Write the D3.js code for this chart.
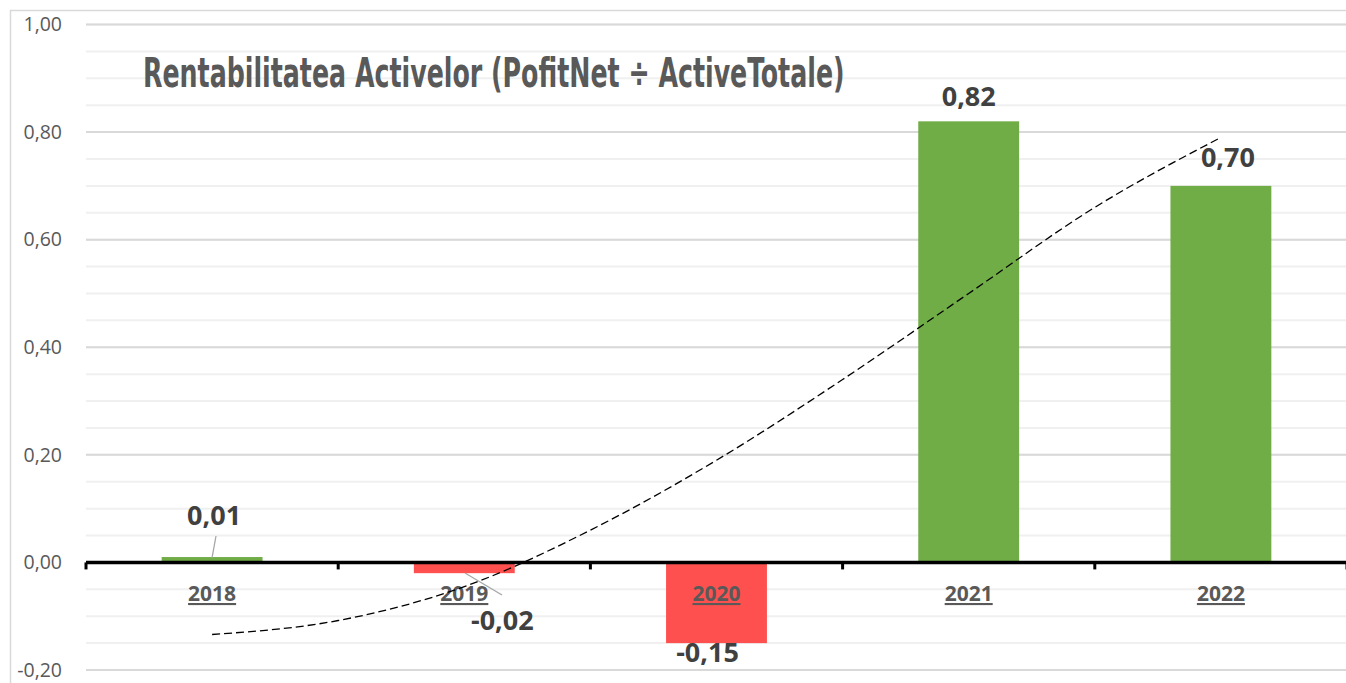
<!doctype html>
<html>
<head>
<meta charset="utf-8"/>
<script src="https://cdnjs.cloudflare.com/ajax/libs/d3/7.8.5/d3.min.js"></script>
<style>
  body { margin: 0; background: #fff; }
  svg { display: block; }
  .tick-label { font-family: "Open Sans", sans-serif; font-size: 19.5px; fill: #595959; }
  .cat-label { font-family: "Open Sans", sans-serif; font-size: 21px; font-weight: bold; fill: #595959; text-decoration: underline; }
  .val-label { font-family: "Open Sans", sans-serif; font-size: 27px; font-weight: bold; fill: #404040; }
  .title { font-family: "Liberation Sans Narrow", "DejaVu Sans Condensed", sans-serif; font-weight: bold; fill: #595959; }
</style>
</head>
<body>
<svg width="1346" height="683"></svg>
<script>
// data
var years = ["2018", "2019", "2020", "2021", "2022"];
var values = [0.01, -0.02, -0.15, 0.82, 0.70];
// dashed trend line, read at every half category (0 = 2018 ... 4 = 2022)
var trendPos = [0, 0.5, 1, 1.5, 2, 2.5, 3, 3.5, 4];
var trendVals = [-0.134, -0.108, -0.045, 0.06, 0.19, 0.34, 0.50, 0.66, 0.79];
var yTicks = [-0.2, 0, 0.2, 0.4, 0.6, 0.8, 1.0];
var chartTitle = "Rentabilitatea Activelor (PofitNet \u00f7 ActiveTotale)";

var svg = d3.select("svg");
var plotL = 86, plotR = 1347, plotT = 24.5, plotB = 670;

var loc = d3.formatLocale({decimal: ",", thousands: ".", grouping: [3], currency: ["", ""], minus: "-"});
var fmt = loc.format(".2f");

var x = d3.scaleBand().domain(years).range([plotL, plotR]).paddingInner(0.6).paddingOuter(0.3);
var y = d3.scaleLinear().domain([-0.2, 1.0]).range([plotB, plotT]);

// chart frame
svg.append("path")
  .attr("d", "M10.5,683 V10.5 H1346")
  .attr("fill", "none").attr("stroke", "#d9d9d9").attr("stroke-width", 1.5);

// minor gridlines
var minor = d3.range(-0.2, 1.0001, 0.05);
svg.append("g").selectAll("line").data(minor).enter().append("line")
  .attr("x1", plotL).attr("x2", 1346)
  .attr("y1", d => y(d)).attr("y2", d => y(d))
  .attr("stroke", "#f0f0f0").attr("stroke-width", 2);

// major gridlines
svg.append("g").selectAll("line").data(yTicks).enter().append("line")
  .attr("x1", plotL).attr("x2", 1346)
  .attr("y1", d => y(d)).attr("y2", d => y(d))
  .attr("stroke", "#d9d9d9").attr("stroke-width", 2);

// y labels
svg.append("g").selectAll("text").data(yTicks).enter().append("text")
  .attr("class", "tick-label")
  .attr("x", 62).attr("y", d => y(d))
  .attr("dy", "0.35em")
  .attr("text-anchor", "end")
  .text(d => fmt(d));

// title: narrow font sized to width, then stretched upward to look tall and condensed
var titleG = svg.append("g");
var title = titleG.append("text")
  .attr("class", "title")
  .attr("x", 0).attr("y", 0)
  .style("font-size", "41px")
  .text(chartTitle);
var w = title.node().getComputedTextLength();
var fs = 41 * 702 / w;
title.style("font-size", fs + "px");
titleG.attr("transform", "translate(143,87) scale(1," + (41 / fs) + ")");

// bars
svg.append("g").selectAll("rect").data(years).enter().append("rect")
  .attr("x", d => x(d))
  .attr("width", x.bandwidth())
  .attr("y", (d, i) => y(Math.max(0, values[i])))
  .attr("height", (d, i) => Math.abs(y(values[i]) - y(0)))
  .attr("fill", (d, i) => values[i] >= 0 ? "#70ad47" : "#ff5050");

// zero axis with tick marks at band edges
var step = x.step();
var edges = d3.range(0, years.length + 1).map(i => plotL + i * step);
svg.append("line")
  .attr("x1", plotL).attr("x2", 1346)
  .attr("y1", y(0)).attr("y2", y(0))
  .attr("stroke", "#000").attr("stroke-width", 3.5);
svg.append("g").selectAll("line").data(edges).enter().append("line")
  .attr("x1", d => d).attr("x2", d => d)
  .attr("y1", y(0)).attr("y2", y(0) + 7)
  .attr("stroke", "#000").attr("stroke-width", 3);

// category labels
svg.append("g").selectAll("text").data(years).enter().append("text")
  .attr("class", "cat-label")
  .attr("x", d => x(d) + x.bandwidth() / 2)
  .attr("y", 601)
  .attr("text-anchor", "middle")
  .text(d => d);

// trend line
var xPos = t => x(years[0]) + x.bandwidth() / 2 + t * step;
var trend = d3.line()
  .x((d, i) => xPos(trendPos[i]))
  .y(d => y(d))
  .curve(d3.curveMonotoneX);
svg.append("path")
  .datum(trendVals)
  .attr("d", trend)
  .attr("fill", "none")
  .attr("stroke", "#000")
  .attr("stroke-width", 1.3)
  .attr("stroke-dasharray", "8,4");

// value labels (offsets as placed in the picture)
var labelDx = [2, 38, -9, 0, 7];
var labelY = [525, 630, 662, 106, 167];
var leaders = [
  [[216, 536], [212, 558]],
  [[465, 573], [502, 595]]
];
svg.append("g").selectAll("line").data(leaders).enter().append("line")
  .attr("x1", d => d[0][0]).attr("y1", d => d[0][1])
  .attr("x2", d => d[1][0]).attr("y2", d => d[1][1])
  .attr("stroke", "#a6a6a6").attr("stroke-width", 1.3);

svg.append("g").selectAll("text").data(years).enter().append("text")
  .attr("class", "val-label")
  .attr("x", (d, i) => x(d) + x.bandwidth() / 2 + labelDx[i])
  .attr("y", (d, i) => labelY[i])
  .attr("text-anchor", "middle")
  .text((d, i) => fmt(values[i]));
</script>
</body>
</html>
